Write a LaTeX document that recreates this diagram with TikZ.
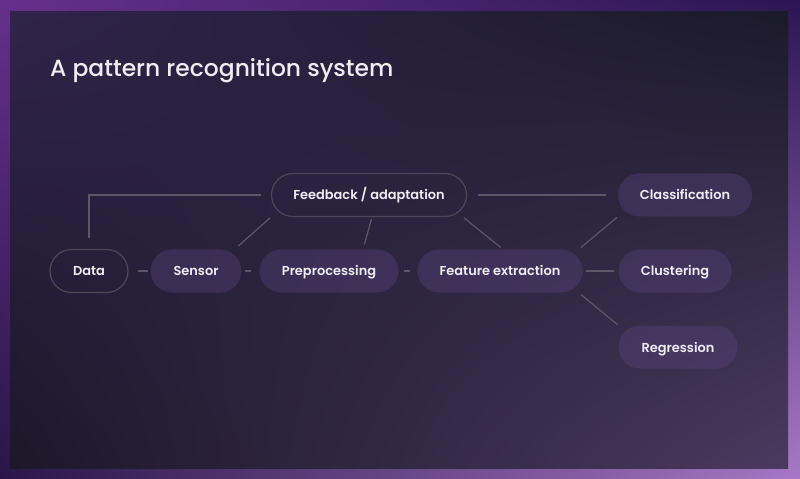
\documentclass[tikz,border=0pt]{standalone}
\usepackage{fontspec}
\setmainfont{Poppins}
\newfontfamily\pillfont{Poppins}[UprightFont={* SemiBold}]
\newfontfamily\titlefont{Poppins}[UprightFont={* Medium}]
\usepackage{tikz}
\usetikzlibrary{calc,shadings}

\definecolor{frameUL}{HTML}{66308C}
\definecolor{frameUR}{HTML}{2A1652}
\definecolor{frameLL}{HTML}{2A1548}
\definecolor{frameLR}{HTML}{A878C6}
\definecolor{panelUL}{HTML}{30244A}
\definecolor{panelUR}{HTML}{1B1A2A}
\definecolor{panelLL}{HTML}{1D1729}
\definecolor{panelLR}{HTML}{4A3A60}
\definecolor{pillfill}{HTML}{5A4580}
\definecolor{pillline}{HTML}{4F4759}
\definecolor{wire}{HTML}{5E5669}
\definecolor{label}{HTML}{F0ECF4}

\begin{document}
\begin{tikzpicture}[x=1bp,y=-1bp]
	\tikzstyle{pill} = [rounded corners=21.5bp, minimum height=43bp, inner sep=0pt,
		text height=11bp, text depth=1bp, text=label, font=\pillfont\fontsize{13}{16}\selectfont]
	\tikzstyle{solid pill} = [pill, fill=pillfill, fill opacity=0.38, text opacity=1]
	\tikzstyle{open pill} = [pill, draw=pillline, line width=1.2bp]
	\tikzstyle{wire} = [draw=wire, line width=1.2bp]
	\useasboundingbox (0,0) rectangle (800,479);
	\shade[upper left=frameUL, upper right=frameUR, lower left=frameLL, lower right=frameLR]
		(0,0) rectangle (800,479);
	\shade[upper left=panelUL, upper right=panelUR, lower left=panelLL, lower right=panelLR]
		(10,12) rectangle (788,468);
	\node[anchor=base west, inner sep=0pt, text=label, font=\titlefont\fontsize{23.5}{28}\selectfont]
		(title) at (50,77) {A pattern recognition system};
	% main chain
	\node[open pill, minimum width=78bp] (data) at (89,271) {Data};
	\node[solid pill, minimum width=91bp] (sensor) at (196,271) {Sensor};
	\node[solid pill, minimum width=139bp] (pre) at (329,271) {Preprocessing};
	\node[solid pill, minimum width=165bp] (feat) at (500,271) {Feature extraction};
	\node[open pill, minimum width=195bp] (fb) at (369,195) {Feedback / adaptation};
	% outputs
	\node[solid pill, minimum width=134bp] (class) at (685,195) {Classification};
	\node[solid pill, minimum width=113bp] (clus) at (675,271) {Clustering};
	\node[solid pill, minimum width=119bp] (reg) at (678,347) {Regression};
	% connectors
	\draw[wire, shorten <=9bp, shorten >=2bp] (data) -- (sensor);
	\draw[wire, shorten <=3bp, shorten >=8bp] (sensor) -- (pre);
	\draw[wire, shorten <=5bp, shorten >=7bp] (pre) -- (feat);
	\draw[wire, shorten <=3bp, shorten >=4bp] (feat) -- (clus);
	\draw[wire, shorten <=11bp, shorten >=10bp] (data.north) |- (fb.west);
	\draw[wire, shorten <=11bp, shorten >=12bp] (fb) -- (class);
	\draw[wire, shorten <=1bp, shorten >=5bp] (fb.south west) -- ([xshift=-7bp]sensor.north east);
	\draw[wire, shorten <=2bp, shorten >=5bp] ([xshift=3bp]fb.south) -- ([xshift=34bp]pre.north);
	\draw[wire, shorten <=1bp, shorten >=3bp] ([xshift=-4bp]fb.south east) -- ([xshift=3bp]feat.north);
	\draw[wire, shorten <=3bp, shorten >=1bp] ([xshift=-4bp]feat.north east) -- (class.south west);
	\draw[wire, shorten <=3bp, shorten >=1bp] ([xshift=-4bp]feat.south east) -- (reg.north west);
\end{tikzpicture}
\end{document}
